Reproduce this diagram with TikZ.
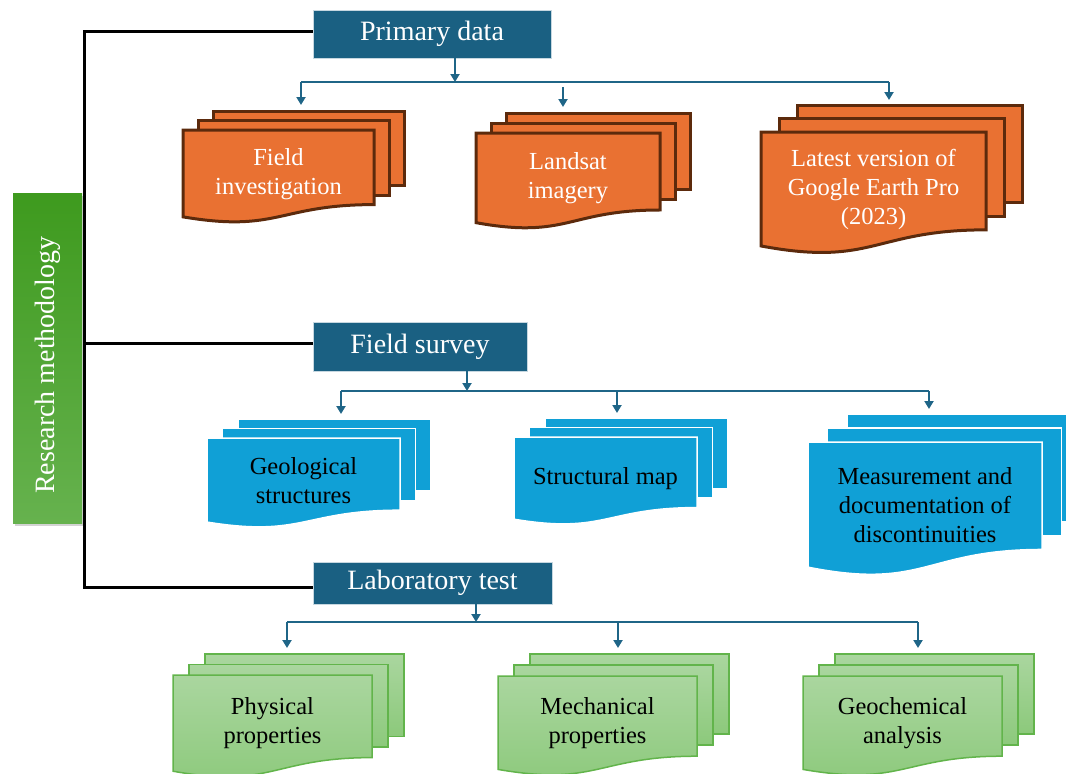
\documentclass[tikz,border=0pt]{standalone}
\usepackage{fontspec}
\setmainfont{Liberation Serif}
\usetikzlibrary{arrows.meta,shadows}
\definecolor{hdr}{HTML}{1A6082}
\definecolor{arrc}{HTML}{1F6587}
\definecolor{orfill}{HTML}{E97132}
\definecolor{orline}{HTML}{5C2A0C}
\definecolor{blfill}{HTML}{10A0D6}
\definecolor{grtop}{HTML}{AAD69F}
\definecolor{grbot}{HTML}{8CC97B}
\definecolor{grline}{HTML}{62B44B}
\definecolor{rmtop}{HTML}{3E9A1E}
\definecolor{rmbot}{HTML}{66B24E}
\tikzset{
  hdrbox/.style={fill=hdr, draw=white!75!hdr, line width=0.8pt, text=white,
    font=\fontsize{28}{32}\selectfont, inner sep=0pt},
  bracket/.style={draw=black, line width=3pt, line join=miter},
  conn/.style={draw=arrc, line width=2pt},
  arr/.style={conn, -{Triangle[width=9pt,length=8pt]}},
  orpage/.style={fill=orfill, draw=orline, line width=3pt, line join=miter},
  blpage/.style={fill=blfill, draw=white, line width=1.5pt},
  grpage/.style={top color=grtop, bottom color=grbot, draw=grline, line width=1.5pt},
  doctext/.style={align=center, font=\fontsize{24.5}{29}\selectfont, inner sep=0pt},
  ortext/.style={doctext, text=white},
  bltext/.style={doctext, text=black},
  grtext/.style={doctext, text=black},
}
% #1 colour prefix, #2 name, #3 x, #4 y (top of front page), #5 width, #6 height, #7 dx, #8 dy, #9 text
\newcommand\mdoc[9]{%
  \path[#1page] ({#3+2*#7},{#4-2*#8}) rectangle ({#3+2*#7+#5},{#4-2*#8+0.802*#6});
  \path[#1page] ({#3+#7},{#4-#8}) rectangle ({#3+#7+#5},{#4-#8+0.802*#6});
  \path[#1page] (#3,#4) -- ({#3+#5},#4) -- ({#3+#5},{#4+0.802*#6})
     .. controls ({#3+0.5*#5},{#4+0.802*#6}) and ({#3+0.5*#5},{#4+1.1075*#6}) .. (#3,{#4+0.934*#6}) -- cycle;
  \node[#1text, name=#2] at ({#3+0.5*#5},{#4+0.47*#6}) {#9};
}
\begin{document}
\begin{tikzpicture}[x=1pt,y=-1pt]
\useasboundingbox (0,0) rectangle (1066,774);
\clip (0,0) rectangle (1066,774);

% research methodology bar
\path[top color=rmtop, bottom color=rmbot, drop shadow={opacity=0.35, shadow xshift=2pt, shadow yshift=-3pt}] (13,193) rectangle (82,523);
\node[rotate=90, text=white, font=\fontsize{28}{32}\selectfont, inner sep=0pt] (rm) at (47.5,365) {Research methodology};

% headers
\node[hdrbox, minimum width=238pt, minimum height=48pt] (pd) at (432,34) {Primary data};
\node[hdrbox, minimum width=214pt, minimum height=49pt] (fs) at (420,346.5) {Field survey};
\node[hdrbox, minimum width=239pt, minimum height=42pt] (lt) at (432.5,583) {Laboratory test};

% bracket
\draw[bracket] ([yshift=3pt]pd.west) -| (84,587) -- ([yshift=-4pt]lt.west);
\draw[bracket] (84,343) -- ([yshift=3.5pt]fs.west);

% documents
\mdoc{or}{fi}{183}{130}{191}{93}{15}{9.5}{Field\\investigation}
\mdoc{or}{ls}{476}{133}{184}{96}{15}{10}{Landsat\\imagery}
\mdoc{or}{ge}{761}{132}{225}{122}{18}{13.5}{Latest version of\\Google Earth Pro\\(2023)}
\mdoc{bl}{gs}{207}{438}{193}{90}{15.5}{9.5}{Geological\\structures}
\mdoc{bl}{sm}{514}{437}{183}{88}{15.5}{9.5}{Structural map}
\mdoc{bl}{md}{808}{442}{234}{134}{19.5}{14}{Measurement and\\documentation of\\discontinuities}
\mdoc{gr}{pp}{173}{675}{199}{103}{16}{10.5}{Physical\\properties}
\mdoc{gr}{mp}{498}{676}{199}{100}{16}{11}{Mechanical\\properties}
\mdoc{gr}{ga}{803}{676}{199}{100}{16}{11}{Geochemical\\analysis}

% connector coordinates
\coordinate (pdbus) at (455,82);
\coordinate (pdL) at (301,82);
\coordinate (pdR) at (889,82);
\coordinate (fi-in) at (301,105);
\coordinate (ls-from) at (563,87);
\coordinate (ls-in) at (563,107);
\coordinate (ge-in) at (889,100);

\coordinate (fsbus) at (467,391);
\coordinate (fsL) at (341,391);
\coordinate (fsR) at (929,391);
\coordinate (fsM) at (617,391);
\coordinate (gs-in) at (341,414);
\coordinate (sm-in) at (617,413);
\coordinate (md-in) at (929,409);

\coordinate (ltbus) at (476,622);
\coordinate (ltL) at (287,622);
\coordinate (ltR) at (918,622);
\coordinate (ltM) at (618,622);
\coordinate (pp-in) at (287,648);
\coordinate (mp-in) at (618,648);
\coordinate (ga-in) at (918,648);

% primary data connectors
\draw[arr] (pd.south -| pdbus) -- (pdbus);
\draw[conn] (pdL) -- (pdR);
\draw[arr] (pdL) -- (fi-in);
\draw[arr] (ls-from) -- (ls-in);
\draw[arr] (pdR) -- (ge-in);

% field survey connectors
\draw[arr] (fs.south -| fsbus) -- (fsbus);
\draw[conn] (fsL) -- (fsR);
\draw[arr] (fsL) -- (gs-in);
\draw[arr] (fsM) -- (sm-in);
\draw[arr] (fsR) -- (md-in);

% laboratory connectors
\draw[arr] (lt.south -| ltbus) -- (ltbus);
\draw[conn] (ltL) -- (ltR);
\draw[arr] (ltL) -- (pp-in);
\draw[arr] (ltM) -- (mp-in);
\draw[arr] (ltR) -- (ga-in);
\end{tikzpicture}
\end{document}
